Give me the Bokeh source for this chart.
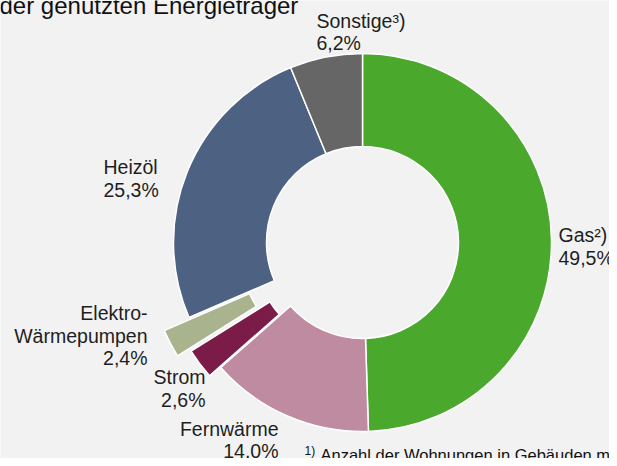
import math
from bokeh.plotting import figure
from bokeh.models import Range1d, ColumnDataSource
from bokeh.core.properties import value
from bokeh.embed import file_html
from bokeh.resources import INLINE

# ---------------- data ----------------
categories = ["Gas²)", "Fernwärme", "Strom", "Elektro-\nWärmepumpen", "Heizöl", "Sonstige³)"]
shares = [49.5, 14.0, 2.6, 2.4, 25.3, 6.2]
share_labels = ["49,5%", "14,0%", "2,6%", "2,4%", "25,3%", "6,2%"]
title_text = "der genutzten Energieträger"
footnote_mark = "1)"
footnote_text = "Anzahl der Wohnungen in Gebäuden mit"

# ---------------- style / layout ----------------
colors = ["#4AA82C", "#BF8BA1", "#7B1B47", "#A9B48F", "#4D6282", "#666666"]
explode = [0, 0, 14, 28, 0, 0]          # px outward shift of slices
BG = "#F2F2F2"
TXT = "#1E1E1E"
FONT = value("Liberation Sans")
CX, CY = 362, 242                        # donut centre (pixel space)
R_OUT, R_IN = 189, 96
LABEL_FS = 19.5
# label anchors: (x, first baseline, align) in pixel space
label_layout = [
    (558, 241.5, "left"),
    (278, 435.0, "right"),
    (205, 383.5, "right"),
    (147, 319.5, "right"),
    (103, 173.5, "left"),
    (316, 27.0, "left"),
]
LINE_STEP = 22.5
MID = 0.35                               # baseline -> visual middle, in em

W, H = 609, 458
p = figure(width=W, height=H,
           x_range=Range1d(0, W), y_range=Range1d(-H, 0),
           output_backend="svg", toolbar_location=None,
           x_axis_location=None, y_axis_location=None, min_border=0)
p.grid.visible = False
p.outline_line_color = None
p.background_fill_color = BG
p.border_fill_color = BG

# ---------------- wedges ----------------
total = sum(shares)
xs, ys, starts, ends = [], [], [], []
cum = 0.0
for s, d in zip(shares, explode):
    t1 = cum / total * 2 * math.pi
    t2 = (cum + s) / total * 2 * math.pi
    tm = (t1 + t2) / 2
    cum += s
    xs.append(CX + d * math.sin(tm))
    ys.append(-CY + d * math.cos(tm))
    starts.append(math.pi / 2 - t1)
    ends.append(math.pi / 2 - t2)

src = ColumnDataSource(dict(x=xs, y=ys, start=starts, end=ends, color=colors))
p.annular_wedge(x="x", y="y", inner_radius=R_IN, outer_radius=R_OUT,
                start_angle="start", end_angle="end", direction="clock",
                fill_color="color", line_color="white", line_width=1.5,
                source=src)

# ---------------- labels ----------------
for align in ("left", "right"):
    lx, ly, lt = [], [], []
    for name, pct, (ax, ay, al) in zip(categories, share_labels, label_layout):
        if al != align:
            continue
        lines = name.split("\n") + [pct]
        for i, ln in enumerate(lines):
            lx.append(ax)
            ly.append(-(ay + i * LINE_STEP - MID * LABEL_FS))
            lt.append(ln)
    p.text(x=lx, y=ly, text=lt, text_align=align, text_baseline="middle",
           text_font=FONT, text_font_size=f"{LABEL_FS}px", text_color=TXT)

# title (cropped at the top like the reference)
p.text(x=[-1], y=[-(13.5 - MID * 24)], text=[title_text], text_align="left",
       text_baseline="middle", text_font=FONT, text_font_size="24px",
       text_color="#111111")

# footnote (cropped at the bottom)
p.text(x=[304], y=[-(455 - MID * 12)], text=[footnote_mark], text_align="left",
       text_baseline="middle", text_font=FONT, text_font_size="12px",
       text_color="#111111")
p.text(x=[320], y=[-(460 - MID * 16.5)], text=[footnote_text], text_align="left",
       text_baseline="middle", text_font=FONT, text_font_size="16.5px",
       text_color="#111111")

open("out.html", "w").write(file_html(p, INLINE))
